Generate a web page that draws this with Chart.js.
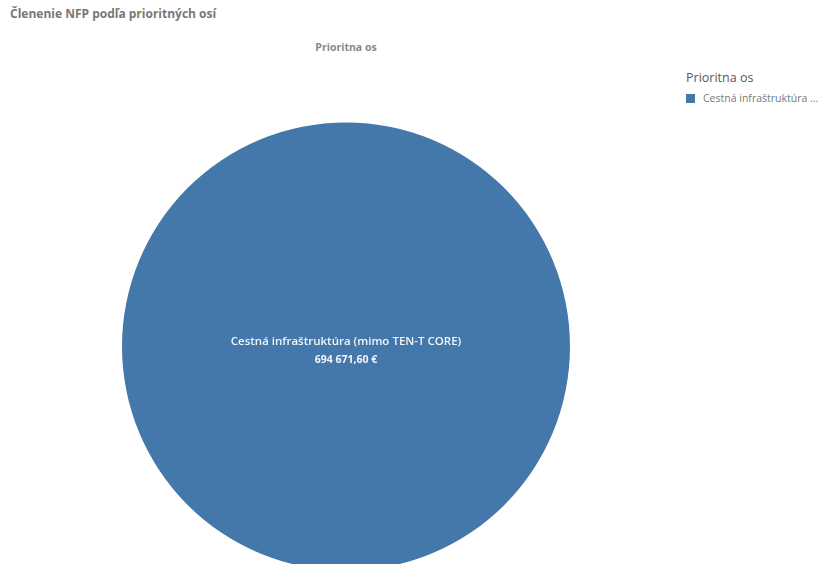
<!DOCTYPE html>
<html>
<head>
<meta charset="utf-8">
<script src="https://cdn.jsdelivr.net/npm/chart.js@4.4.1/dist/chart.umd.min.js"></script>
<style>
  html, body { margin: 0; padding: 0; background: #fff; overflow: hidden; width: 830px; height: 564px; }
  body { position: relative; font-family: "Open Sans", "DejaVu Sans", sans-serif; }
  #title { position: absolute; left: 10px; top: 5px; font-size: 12px; font-weight: 700; color: #777; }
  #subtitle { position: absolute; left: 0; width: 692px; top: 40px; text-align: center; font-size: 10.5px; font-weight: 700; color: #888; }
  #legend { position: absolute; left: 686px; top: 69px; color: #595959; }
  #legend .lt { font-size: 12.5px; margin-bottom: 5px; }
  #legend .it { font-size: 10.5px; color: #777; display: flex; align-items: center; white-space: nowrap; }
  #legend .sw { width: 9px; height: 9px; margin-right: 8px; display: inline-block; }
  #wrap { position: absolute; left: 0; top: 0; width: 830px; height: 580px; }
</style>
</head>
<body>
<div id="title">Členenie NFP podľa prioritných osí</div>
<div id="subtitle">Prioritna os</div>
<div id="legend"></div>
<div id="wrap"><canvas id="chartOsi"></canvas></div>
<script>
// data
const kategorie = ['Cestná infraštruktúra (mimo TEN-T CORE)'];
const hodnoty = [694671.60];
const farby = ['#4477aa'];
const legendaNazov = 'Prioritna os';

const formatEur = v => new Intl.NumberFormat('sk-SK', { minimumFractionDigits: 2, maximumFractionDigits: 2 }).format(v).replace(/\s/g, ' ') + ' €';

// legenda vpravo (skratena ako v originali)
const leg = document.getElementById('legend');
leg.innerHTML = '<div class="lt">' + legendaNazov + '</div>' + kategorie.map((k, i) => {
    const kratky = k.length > 22 ? k.slice(0, 21) + ' ...' : k;
    return '<div class="it"><span class="sw" style="background:' + farby[i] + '"></span>' + kratky + '</div>';
}).join('');

// popisky vo vnutri vysekov
const popiskyPlugin = {
    id: 'popisky',
    afterDatasetsDraw(chart) {
        const ctx = chart.ctx;
        const meta = chart.getDatasetMeta(0);
        meta.data.forEach((arc, i) => {
            let x, y;
            if (hodnoty.length === 1) { x = arc.x; y = arc.y; }
            else { const p = arc.tooltipPosition(); x = p.x; y = p.y; }
            ctx.save();
            ctx.fillStyle = '#f2f5fa';
            ctx.textAlign = 'center';
            ctx.textBaseline = 'middle';
            ctx.font = '600 11.5px "Open Sans", sans-serif';
            ctx.fillText(kategorie[i], x, y - 5);
            ctx.font = '700 10.5px "Open Sans", sans-serif';
            ctx.fillText(formatEur(hodnoty[i]), x, y + 14);
            ctx.restore();
        });
    }
};

const ctxP = document.getElementById('chartOsi').getContext('2d');
new Chart(ctxP, {
    type: 'pie',
    data: {
        labels: kategorie,
        datasets: [{
            data: hodnoty,
            backgroundColor: farby,
            borderWidth: 0
        }]
    },
    options: {
        responsive: true,
        maintainAspectRatio: false,
        animation: false,
        layout: { padding: { left: 122, right: 260, top: 121, bottom: 8 } },
        plugins: {
            legend: { display: false },
            tooltip: { enabled: false }
        }
    },
    plugins: [popiskyPlugin]
});
</script>
</body>
</html>
